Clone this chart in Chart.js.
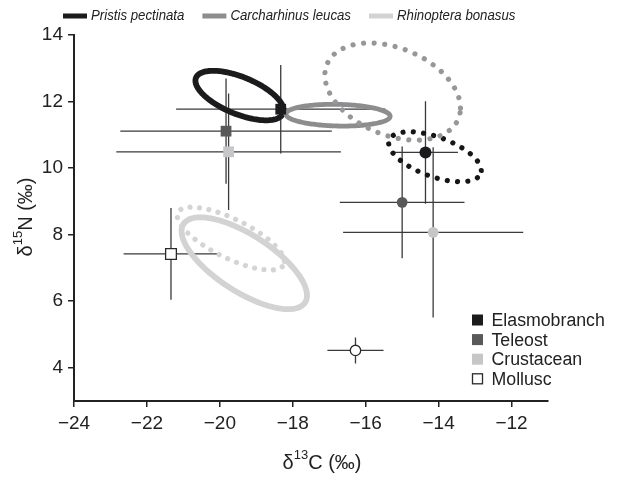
<!DOCTYPE html>
<html>
<head>
<meta charset="utf-8">
<script src="https://cdn.jsdelivr.net/npm/chart.js@4.4.1/dist/chart.umd.min.js"></script>
<style>
  html, body { margin: 0; padding: 0; background: #fff; }
  #wrap { width: 620px; height: 479px; }
</style>
</head>
<body>
<div id="wrap"><canvas id="chart" width="620" height="479"></canvas></div>
<script>
// ── Data ───────────────────────────────────────────────────────
const xTickValues = [-24, -22, -20, -18, -16, -14, -12];
const yTickValues = [4, 6, 8, 10, 12, 14];

const preyGroups = ['Elasmobranch', 'Teleost', 'Crustacean', 'Mollusc'];

// prey means ± SD, square markers
const squareX    = [-18.33, -19.83, -19.76, -21.34];
const squareY    = [11.77, 11.11, 10.49, 7.42];
const squareXErr = [2.87, 2.90, 3.08, 1.30];
const squareYErr = [1.33, 1.58, 1.75, 1.38];

// prey means ± SD, circle markers
const circleX    = [-14.36, -15.00, -14.15, -16.28];
const circleY    = [10.47, 8.97, 8.07, 4.52];
const circleXErr = [0.89, 1.71, 2.47, 0.77];
const circleYErr = [1.54, 1.68, 2.56, 0.39];

const speciesNames = ['Pristis pectinata', 'Carcharhinus leucas', 'Rhinoptera bonasus'];

// standard ellipses (centre, SD of x and y, correlation), solid outline
const solidCx = [-19.46, -16.76, -19.33];
const solidCy = [12.18, 11.59, 7.14];
const solidSx = [1.21, 1.43, 1.72];
const solidSy = [0.744, 0.327, 1.38];
const solidR  = [-0.60, -0.10, -0.70];

// standard ellipses, dotted outline
const dottedCx = [-14.10, -15.26, -19.70];
const dottedCy = [10.34, 12.30, 7.88];
const dottedSx = [1.27, 1.86, 1.47];
const dottedSy = [0.75, 1.46, 0.945];
const dottedR  = [-0.55, -0.34, -0.73];

// ── Styles ─────────────────────────────────────────────────────
const FONT = "'Liberation Sans', Arial, sans-serif";
const INK = '#222';
const SPECIES_COLORS = ['#1b1b1d', '#8d8d8f', '#d3d3d4'];
const DOT_COLORS     = ['#161618', '#97979a', '#d4d4d5'];
const DOT_GAP        = [10.3, 10.6, 9.5];
const GROUP_COLORS   = ['#1b1b1d', '#59595c', '#c6c6c8', '#ffffff'];
const GROUP_BORDERS  = ['#1b1b1d', '#59595c', '#c6c6c8', '#2a2a2a'];

const fmtTick = v => (v < 0 ? '\u2212' + Math.abs(v) : String(v));

// ── Helpers ────────────────────────────────────────────────────
function traceEllipse(ctx, xs, ys, cx, cy, sx, sy, r) {
  const k = Math.sqrt(1 - r * r);
  ctx.beginPath();
  for (let i = 0; i <= 180; i++) {
    const t = (i / 180) * Math.PI * 2;
    const px = xs.getPixelForValue(cx + sx * Math.cos(t));
    const py = ys.getPixelForValue(cy + sy * (r * Math.cos(t) + k * Math.sin(t)));
    if (i === 0) ctx.moveTo(px, py); else ctx.lineTo(px, py);
  }
  ctx.closePath();
}

function drawErrorBars(ctx, xs, ys, X, Y, XE, YE) {
  X.forEach((v, i) => {
    const px = xs.getPixelForValue(v);
    const py = ys.getPixelForValue(Y[i]);
    ctx.beginPath();
    ctx.moveTo(xs.getPixelForValue(v - XE[i]), py);
    ctx.lineTo(xs.getPixelForValue(v + XE[i]), py);
    ctx.moveTo(px, ys.getPixelForValue(Y[i] - YE[i]));
    ctx.lineTo(px, ys.getPixelForValue(Y[i] + YE[i]));
    ctx.stroke();
  });
}

// narrow text, the figure uses a condensed face
function squeezedText(ctx, text, x, y, sx) {
  ctx.save();
  ctx.translate(x, y);
  ctx.scale(sx, 1);
  ctx.fillText(text, 0, 0);
  const w = ctx.measureText(text).width * sx;
  ctx.restore();
  return w;
}

// ── Plugins ────────────────────────────────────────────────────
const marksPlugin = {
  id: 'marks',
  beforeDatasetsDraw(chart) {
    const { ctx, scales: { x, y } } = chart;
    ctx.save();

    // error bars
    ctx.strokeStyle = '#3a3a3c';
    ctx.lineWidth = 1.3;
    drawErrorBars(ctx, x, y, squareX, squareY, squareXErr, squareYErr);
    drawErrorBars(ctx, x, y, circleX, circleY, circleXErr, circleYErr);

    // solid ellipses
    ctx.setLineDash([]);
    solidCx.forEach((cx, i) => {
      traceEllipse(ctx, x, y, cx, solidCy[i], solidSx[i], solidSy[i], solidR[i]);
      ctx.strokeStyle = SPECIES_COLORS[i];
      ctx.lineWidth = i === 1 ? 4.8 : 5.8;
      ctx.stroke();
    });

    // dotted ellipses
    ctx.lineCap = 'round';
    dottedCx.forEach((cx, i) => {
      traceEllipse(ctx, x, y, cx, dottedCy[i], dottedSx[i], dottedSy[i], dottedR[i]);
      ctx.setLineDash([0.01, DOT_GAP[i]]);
      ctx.strokeStyle = DOT_COLORS[i];
      ctx.lineWidth = 5.2;
      ctx.stroke();
    });
    ctx.restore();
  },
  afterDraw(chart) {
    const { ctx } = chart;
    ctx.save();
    ctx.fillStyle = INK;

    // species legend across the top
    ctx.font = `italic 14px ${FONT}`;
    ctx.textBaseline = 'middle';
    let lx = 63;
    speciesNames.forEach((name, i) => {
      ctx.fillStyle = SPECIES_COLORS[i];
      ctx.fillRect(lx, 13.5, 24, 5);
      lx += 28;
      ctx.fillStyle = INK;
      lx += squeezedText(ctx, name, lx, 16, 0.945) + 18;
    });

    // prey group legend
    ctx.font = `18px ${FONT}`;
    preyGroups.forEach((g, i) => {
      const cy = 320 + i * 19.6;
      ctx.fillStyle = GROUP_COLORS[i];
      ctx.fillRect(472, cy - 5.5, 11, 11);
      if (i === 3) {
        ctx.strokeStyle = GROUP_BORDERS[i];
        ctx.lineWidth = 1.3;
        ctx.strokeRect(472.5, cy - 5, 10, 10);
      }
      ctx.fillStyle = INK;
      squeezedText(ctx, g, 491.5, cy + 1, 0.985);
    });

    // axis titles with superscripts
    const title = (pre, sup, post) => {
      ctx.font = `20px ${FONT}`;
      const w1 = ctx.measureText(pre).width;
      ctx.font = `13px ${FONT}`;
      const w2 = ctx.measureText(sup).width;
      ctx.font = `20px ${FONT}`;
      const w3 = ctx.measureText(post).width;
      let tx = -(w1 + w2 + w3) / 2;
      ctx.fillText(pre, tx, 0); tx += w1;
      ctx.font = `13px ${FONT}`;
      ctx.fillText(sup, tx, -8); tx += w2;
      ctx.font = `20px ${FONT}`;
      ctx.fillText(post, tx, 0);
    };
    ctx.textBaseline = 'middle';
    ctx.textAlign = 'left';

    ctx.save();
    ctx.translate(322, 463);
    title('\u03b4', '13', 'C (\u2030)');
    ctx.restore();

    ctx.save();
    ctx.translate(26, 217);
    ctx.rotate(-Math.PI / 2);
    title('\u03b4', '15', 'N (\u2030)');
    ctx.restore();

    ctx.restore();
  }
};

// ── Chart ──────────────────────────────────────────────────────
const ctx = document.getElementById('chart').getContext('2d');

new Chart(ctx, {
  type: 'scatter',
  data: {
    datasets: [
      {
        label: 'squares',
        data: squareX.map((v, i) => ({ x: v, y: squareY[i] })),
        pointStyle: 'rect',
        pointRadius: 7.6,
        pointBackgroundColor: GROUP_COLORS,
        pointBorderColor: GROUP_BORDERS,
        pointBorderWidth: [0, 0, 0, 1.3],
      },
      {
        label: 'circles',
        data: circleX.map((v, i) => ({ x: v, y: circleY[i] })),
        pointStyle: 'circle',
        pointRadius: [6, 5.4, 5.4, 5.2],
        pointBackgroundColor: GROUP_COLORS,
        pointBorderColor: GROUP_BORDERS,
        pointBorderWidth: [0, 0, 0, 1.3],
      },
    ],
  },
  options: {
    responsive: false,
    animation: false,
    layout: { padding: { top: 35, right: 72, bottom: 0, left: 0 } },
    plugins: {
      legend: { display: false },
      tooltip: { enabled: false },
    },
    scales: {
      x: {
        type: 'linear',
        min: -24,
        max: -11,
        afterBuildTicks: s => { s.ticks = xTickValues.map(v => ({ value: v })); },
        afterFit: s => { s.height = 78; },
        ticks: {
          color: INK,
          font: { size: 19, family: FONT },
          padding: 5,
          callback: v => fmtTick(v),
        },
        grid: { drawOnChartArea: false, drawTicks: true, tickLength: 6, color: INK, lineWidth: 1.5 },
        border: { display: true, color: INK, width: 2 },
      },
      y: {
        type: 'linear',
        min: 3,
        max: 14,
        afterBuildTicks: s => { s.ticks = yTickValues.map(v => ({ value: v })); },
        afterFit: s => { s.width = 74; },
        ticks: {
          color: INK,
          font: { size: 19, family: FONT },
          padding: 5,
          callback: v => fmtTick(v),
        },
        grid: { drawOnChartArea: false, drawTicks: true, tickLength: 6, color: INK, lineWidth: 1.5 },
        border: { display: true, color: INK, width: 2 },
      },
    },
  },
  plugins: [marksPlugin],
});
</script>
</body>
</html>
